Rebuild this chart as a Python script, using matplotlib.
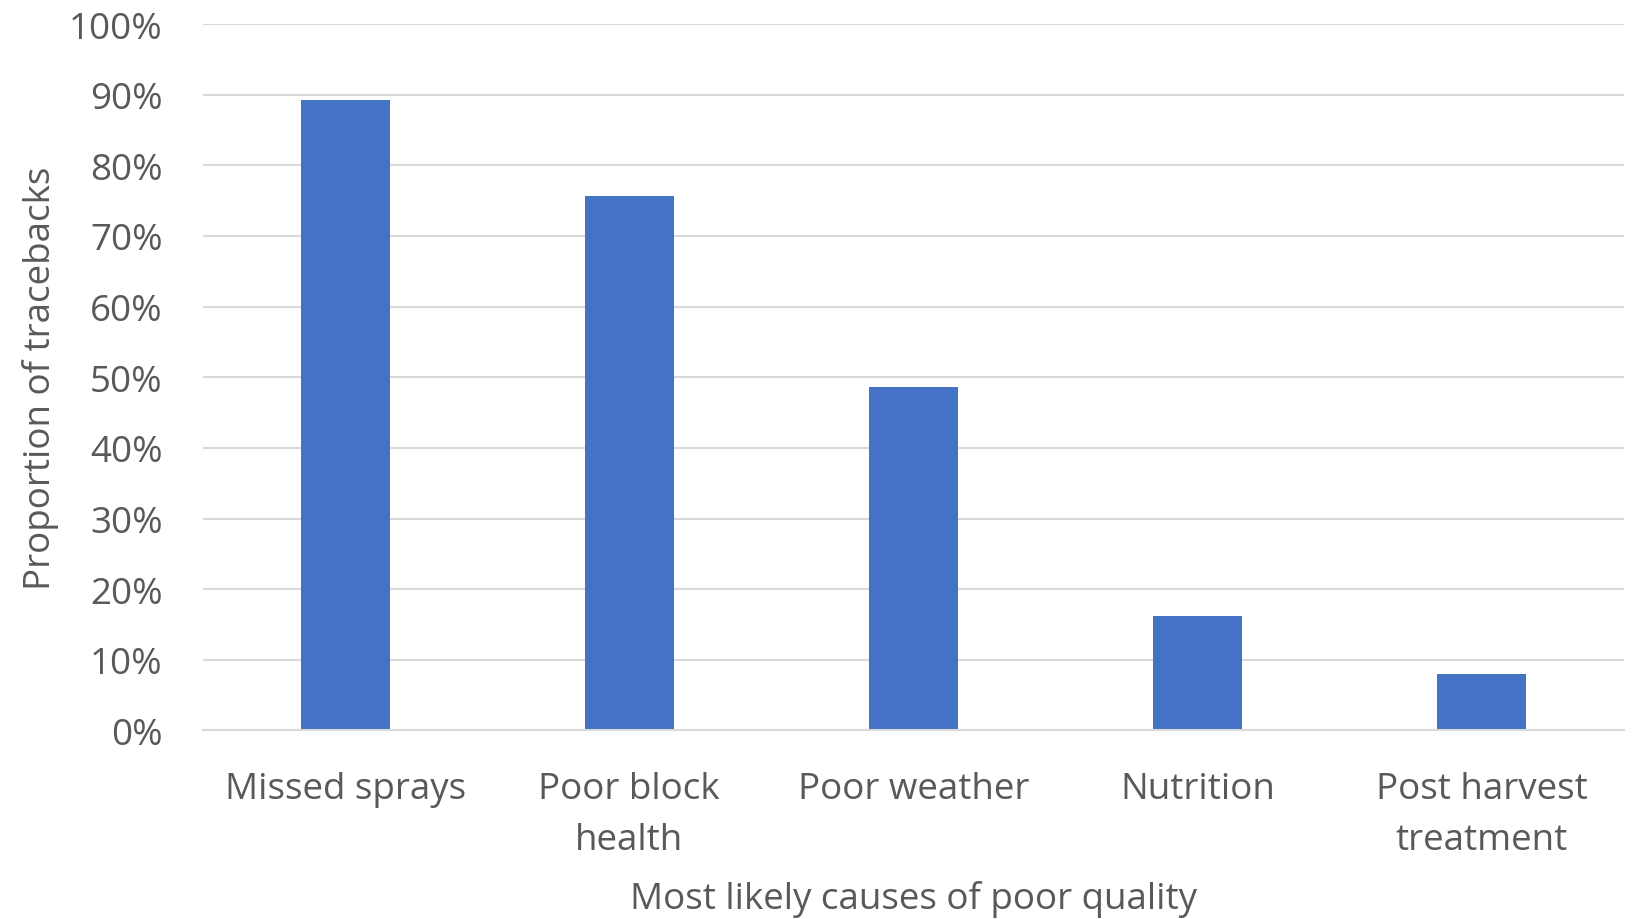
import matplotlib.pyplot as plt
from matplotlib.ticker import PercentFormatter, MultipleLocator

causes = ["Missed sprays", "Poor block\nhealth", "Poor weather", "Nutrition",
          "Post harvest\ntreatment"]
share = [89.2, 75.7, 48.6, 16.2, 8.0]

BAR = "#4472C4"
GRID = "#D9D9D9"
TEXT = "#595959"
FS = 26.5

plt.rcParams["font.family"] = ["Open Sans", "DejaVu Sans"]

fig = plt.figure(figsize=(16.32, 9.2), dpi=100)
ax = fig.add_axes([0.1244, 0.2049, 0.8706, 0.7679])

x = range(len(causes))
ax.bar(x, share, width=0.313, color=BAR, zorder=2)

ax.set_xlim(-0.5, len(causes) - 0.5)
ax.set_ylim(0, 100)
ax.yaxis.set_major_locator(MultipleLocator(10))
ax.yaxis.set_major_formatter(PercentFormatter(decimals=0))
ax.grid(axis="y", color=GRID, lw=1.5, zorder=0)
ax.set_axisbelow(True)

for s in ("top", "right", "left"):
    ax.spines[s].set_visible(False)
ax.spines["bottom"].set_color(GRID)
ax.spines["bottom"].set_linewidth(1.5)

ax.set_xticks(list(x))
ax.set_xticklabels(causes, fontsize=FS, color=TEXT, linespacing=1.55)
ax.tick_params(axis="x", length=0, pad=29)
ax.tick_params(axis="y", length=0, pad=29, labelsize=FS, labelcolor=TEXT)

ax.set_xlabel("Most likely causes of poor quality", fontsize=FS, color=TEXT,
              labelpad=16)
ax.set_ylabel("Proportion of tracebacks", fontsize=FS, color=TEXT, labelpad=7)

fig.savefig("out.png", dpi=100)
